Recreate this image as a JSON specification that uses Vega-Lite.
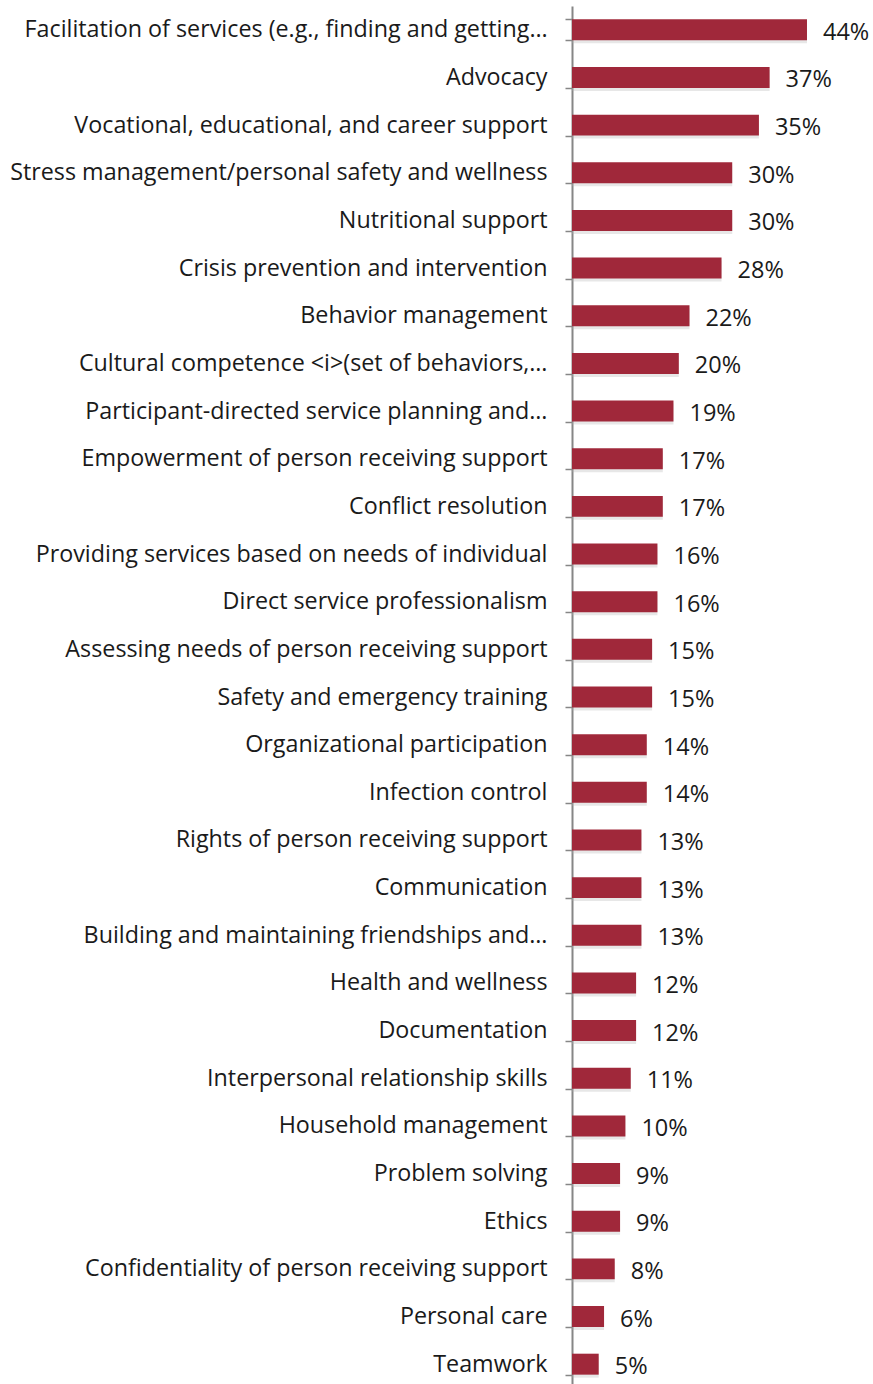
{
  "$schema": "https://vega.github.io/schema/vega-lite/v6.json",
  "autosize": {"type": "none"},
  "width": 301,
  "height": 1382,
  "padding": {"left": 572, "top": 6, "right": 0, "bottom": 0},
  "background": "white",
  "config": {"view": {"stroke": null}},
  "data": {"values": [
    {"item": "Facilitation of services (e.g., finding and getting…", "value": 0.44},
    {"item": "Advocacy", "value": 0.37},
    {"item": "Vocational, educational, and career support", "value": 0.35},
    {"item": "Stress management/personal safety and wellness", "value": 0.30},
    {"item": "Nutritional support", "value": 0.30},
    {"item": "Crisis prevention and intervention", "value": 0.28},
    {"item": "Behavior management", "value": 0.22},
    {"item": "Cultural competence <i>(set of behaviors,…", "value": 0.20},
    {"item": "Participant-directed service planning and…", "value": 0.19},
    {"item": "Empowerment of person receiving support", "value": 0.17},
    {"item": "Conflict resolution", "value": 0.17},
    {"item": "Providing services based on needs of individual", "value": 0.16},
    {"item": "Direct service professionalism", "value": 0.16},
    {"item": "Assessing needs of person receiving support", "value": 0.15},
    {"item": "Safety and emergency training", "value": 0.15},
    {"item": "Organizational participation", "value": 0.14},
    {"item": "Infection control", "value": 0.14},
    {"item": "Rights of person receiving support", "value": 0.13},
    {"item": "Communication", "value": 0.13},
    {"item": "Building and maintaining friendships and…", "value": 0.13},
    {"item": "Health and wellness", "value": 0.12},
    {"item": "Documentation", "value": 0.12},
    {"item": "Interpersonal relationship skills", "value": 0.11},
    {"item": "Household management", "value": 0.10},
    {"item": "Problem solving", "value": 0.09},
    {"item": "Ethics", "value": 0.09},
    {"item": "Confidentiality of person receiving support", "value": 0.08},
    {"item": "Personal care", "value": 0.06},
    {"item": "Teamwork", "value": 0.05}
  ]},
  "encoding": {
    "y": {
      "field": "item", "type": "nominal", "sort": null,
      "scale": {"paddingInner": 0.56, "paddingOuter": 0.28},
      "axis": {
        "title": null, "domainColor": "#868686", "domainWidth": 2,
        "tickColor": "#868686", "tickWidth": 1.5, "tickSize": 7, "tickBand": "extent",
        "labelFont": "Open Sans", "labelFontSize": 23.3, "labelColor": "#1a1a1a",
        "labelPadding": 18, "labelLimit": 0,
        "encode": {"labels": {"update": {"dx": {"signal": "indexof(datum.value + '', '…') >= 0 ? 20 : 0"}}}}
      }
    },
    "x": {
      "field": "value", "type": "quantitative",
      "scale": {"domain": [0, 0.5636], "nice": false, "zero": true},
      "axis": null
    }
  },
  "layer": [
    {
      "mark": {"type": "bar", "color": "#b0b0b0", "opacity": 0.3, "yOffset": 3, "x2Offset": 3},
      "encoding": {}
    },
    {
      "mark": {"type": "bar", "color": "#A0283A"},
      "encoding": {}
    },
    {
      "mark": {"type": "text", "align": "left", "baseline": "middle", "dx": 16, "dy": 3, "font": "Open Sans", "fontSize": 23.5, "color": "#1a1a1a"},
      "encoding": {"text": {"field": "value", "type": "quantitative", "format": ".0%"}}
    }
  ]
}
